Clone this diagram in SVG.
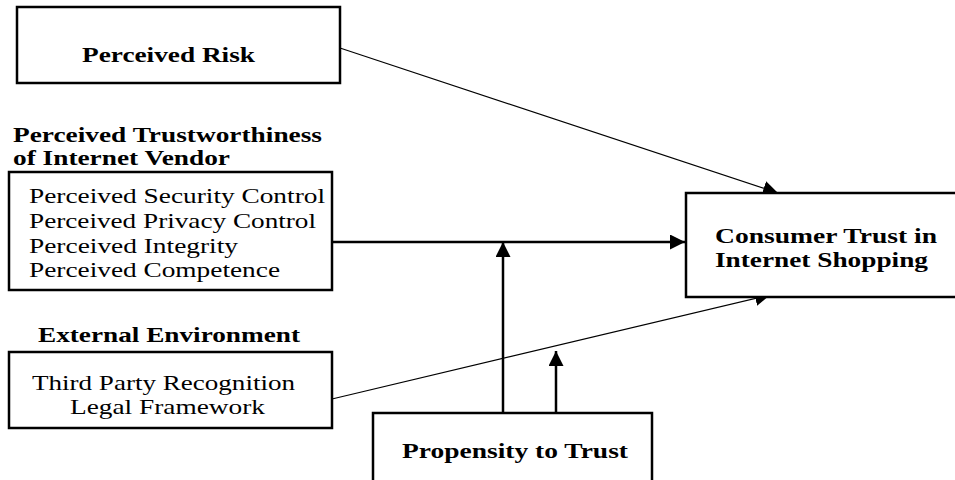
<svg xmlns="http://www.w3.org/2000/svg" width="955" height="480" viewBox="0 0 955 480">
<style>
.box{fill:#fff;stroke:#000;stroke-width:2.5}
.b{font-family:"Liberation Serif","Times New Roman",serif;font-weight:bold;font-size:22px;fill:#000}
.r{font-family:"Liberation Serif","Times New Roman",serif;font-size:21px;fill:#000}
.thick{stroke:#000;stroke-width:2.5;fill:none}
.thin{stroke:#000;stroke-width:1.2;fill:none}
</style>
<defs>
<marker id="ah" viewBox="0 0 14 14" refX="14" refY="7" markerWidth="15" markerHeight="15" markerUnits="userSpaceOnUse" orient="auto">
<path d="M0,0 L14,7 L0,14 Z" fill="#000"/>
</marker>
</defs>
<rect width="955" height="480" fill="#fff"/>
<g id="connectors">
<line class="thin" x1="340" y1="48" x2="778" y2="193" marker-end="url(#ah)"/>
<line class="thick" x1="332" y1="242" x2="685" y2="242" marker-end="url(#ah)"/>
<line class="thin" x1="332" y1="399" x2="770" y2="295" marker-end="url(#ah)"/>
<line class="thick" x1="503" y1="413" x2="503" y2="242" marker-end="url(#ah)"/>
<line class="thick" x1="556" y1="413" x2="556" y2="351" marker-end="url(#ah)"/>
</g>
<g id="perceived-risk">
<rect class="box" x="17" y="7" width="323" height="76"/>
<text class="b" x="82" y="62" textLength="173" lengthAdjust="spacingAndGlyphs">Perceived Risk</text>
</g>
<g id="trustworthiness">
<text class="b" x="13" y="142" textLength="309" lengthAdjust="spacingAndGlyphs">Perceived Trustworthiness</text>
<text class="b" x="13" y="165" textLength="217" lengthAdjust="spacingAndGlyphs">of Internet Vendor</text>
<rect class="box" x="9" y="172" width="323" height="118"/>
<text class="r" x="29" y="203" textLength="296" lengthAdjust="spacingAndGlyphs">Perceived Security Control</text>
<text class="r" x="29" y="228" textLength="287" lengthAdjust="spacingAndGlyphs">Perceived Privacy Control</text>
<text class="r" x="29" y="253" textLength="209" lengthAdjust="spacingAndGlyphs">Perceived Integrity</text>
<text class="r" x="29" y="277" textLength="251" lengthAdjust="spacingAndGlyphs">Perceived Competence</text>
</g>
<g id="external-environment">
<text class="b" x="38" y="342" textLength="262" lengthAdjust="spacingAndGlyphs">External Environment</text>
<rect class="box" x="9" y="352" width="323" height="76"/>
<text class="r" x="32" y="390" textLength="263" lengthAdjust="spacingAndGlyphs">Third Party Recognition</text>
<text class="r" x="70" y="414" textLength="195" lengthAdjust="spacingAndGlyphs">Legal Framework</text>
</g>
<g id="consumer-trust">
<rect class="box" x="686" y="193" width="280" height="104"/>
<text class="b" x="715" y="243" textLength="222" lengthAdjust="spacingAndGlyphs">Consumer Trust in</text>
<text class="b" x="715" y="267" textLength="213" lengthAdjust="spacingAndGlyphs">Internet Shopping</text>
</g>
<g id="propensity">
<rect class="box" x="373" y="413" width="279" height="80"/>
<text class="b" x="402" y="458" textLength="226" lengthAdjust="spacingAndGlyphs">Propensity to Trust</text>
</g>
</svg>
